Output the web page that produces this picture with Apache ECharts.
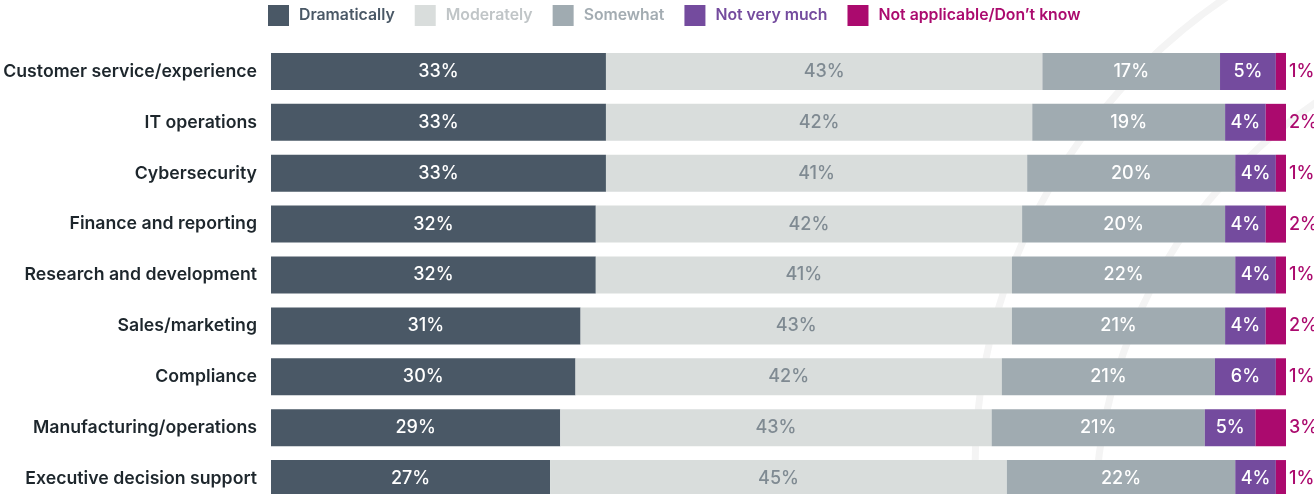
<!DOCTYPE html>
<html>
<head>
<meta charset="utf-8">
<script src="https://cdn.jsdelivr.net/npm/echarts@6/dist/echarts.min.js"></script>
<style>
html,body{margin:0;padding:0;background:#fff;}
#chart{width:1314px;height:494px;}
</style>
</head>
<body>
<div id="chart"></div>
<script>
const categories = [
  'Customer service/experience',
  'IT operations',
  'Cybersecurity',
  'Finance and reporting',
  'Research and development',
  'Sales/marketing',
  'Compliance',
  'Manufacturing/operations',
  'Executive decision support'
];
const seriesNames = ['Dramatically', 'Moderately', 'Somewhat', 'Not very much', 'Not applicable/Don\u2019t know'];

// bar lengths (%)
const dramatically   = [33, 33, 33, 32, 32, 30.5, 30, 28.5, 27.5];
const moderately     = [43, 42, 41.5, 42, 41, 42.5, 42, 42.5, 45];
const somewhat       = [17.5, 19, 20.5, 20, 22, 21, 21, 21, 22.5];
const notVeryMuch    = [5.5, 4, 4, 4, 4, 4, 6, 5, 4];
const notApplicable  = [1, 2, 1, 2, 1, 2, 1, 3, 1];

// printed labels (%)
const dramaticallyLabels  = [33, 33, 33, 32, 32, 31, 30, 29, 27];
const moderatelyLabels    = [43, 42, 41, 42, 41, 43, 42, 43, 45];
const somewhatLabels      = [17, 19, 20, 20, 22, 21, 21, 21, 22];
const notVeryMuchLabels   = [5, 4, 4, 4, 4, 4, 6, 5, 4];
const notApplicableLabels = [1, 2, 1, 2, 1, 2, 1, 3, 1];

const values = [dramatically, moderately, somewhat, notVeryMuch, notApplicable];
const labels = [dramaticallyLabels, moderatelyLabels, somewhatLabels, notVeryMuchLabels, notApplicableLabels];
const colors = ['#4a5866', '#d9dddc', '#a0abb1', '#744b9e', '#ab0a6e'];
const legendTextColors = ['#4a5866', '#c0c5c7', '#a3acb2', '#744b9e', '#ab0a6e'];
const labelColors = ['#ffffff', '#7f8a92', '#ffffff', '#ffffff', '#ab0a6e'];

const FONT = 'Inter, "Noto Sans", sans-serif';

const chart = echarts.init(document.getElementById('chart'), null, {renderer: 'canvas'});

const series = seriesNames.map((name, si) => ({
  name: name,
  type: 'bar',
  stack: 'total',
  barWidth: 37,
  itemStyle: {color: colors[si]},
  emphasis: {disabled: true},
  label: {
    show: true,
    position: si === 4 ? 'right' : 'inside',
    distance: 3,
    color: labelColors[si],
    fontFamily: FONT,
    fontSize: 18,
    fontWeight: 500
  },
  data: values[si].map((v, i) => ({
    value: v,
    label: {formatter: labels[si][i] + '%'}
  }))
}));

chart.setOption({
  backgroundColor: '#ffffff',
  animation: false,
  graphic: [
    {type: 'circle', z: -10, silent: true, shape: {cx: 1545, cy: 470, r: 570},
     style: {fill: 'none', stroke: '#f4f4f4', lineWidth: 7}},
    {type: 'circle', z: -10, silent: true, shape: {cx: 1600, cy: 520, r: 505},
     style: {fill: 'none', stroke: '#f4f4f4', lineWidth: 7}}
  ],
  legend: {
    left: 268,
    top: 5,
    padding: 0,
    itemWidth: 21,
    itemHeight: 21,
    itemGap: 20,
    icon: 'rect',
    selectedMode: false,
    textStyle: {fontFamily: FONT, fontSize: 15.8, fontWeight: 600, padding: [0, 0, 0, 5]},
    data: seriesNames.map((n, i) => ({name: n, textStyle: {color: legendTextColors[i]}}))
  },
  grid: {left: 271, right: 28, top: 46, height: 458, outerBoundsMode: 'none', containLabel: false},
  xAxis: {
    type: 'value', min: 0, max: 100, show: false
  },
  yAxis: {
    type: 'category',
    inverse: true,
    data: categories,
    axisLine: {show: false},
    axisTick: {show: false},
    splitLine: {show: false},
    axisLabel: {
      margin: 14,
      color: '#1d262c',
      fontFamily: FONT,
      fontSize: 17.7,
      fontWeight: 600
    }
  },
  series: series
});
</script>
</body>
</html>
